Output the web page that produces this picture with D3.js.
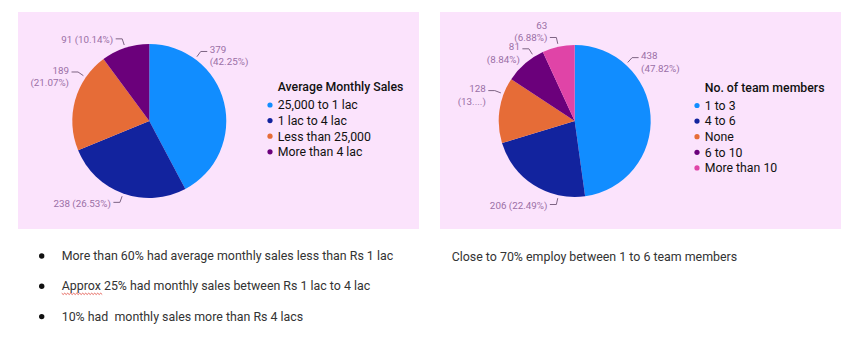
<!DOCTYPE html>
<html>
<head>
<meta charset="utf-8">
<script src="https://cdn.jsdelivr.net/npm/d3@7/dist/d3.min.js"></script>
<style>
  html, body { margin: 0; padding: 0; background: #ffffff; }
  svg { display: block; font-family: Roboto, "Noto Sans", sans-serif; }
  .note { white-space: pre; }
</style>
</head>
<body>
<svg id="chart" width="856" height="351"></svg>
<script>
// ---------- data ----------
const salesTitle = "Average Monthly Sales";
const salesCategories = ["25,000 to 1 lac", "1 lac to 4 lac", "Less than 25,000", "More than 4 lac"];
const salesValues = [379, 238, 189, 91];

const teamTitle = "No. of team members";
const teamCategories = ["1 to 3", "4 to 6", "None", "6 to 10", "More than 10"];
const teamValues = [438, 206, 128, 81, 63];
const teamPctOverride = [null, null, "(13....)", null, null];

const salesNotes = [
  "More than 60% had average monthly sales less than Rs 1 lac",
  "Approx 25% had monthly sales between Rs 1 lac to 4 lac",
  "10% had  monthly sales more than Rs 4 lacs"
];
const teamNotes = ["Close to 70% employ between 1 to 6 team members"];

// ---------- style / layout ----------
const palette = ["#118DFF", "#12239E", "#E66C37", "#6B007B", "#E044A7"];
const panelBg = "#fbe3fc";
const labelColor = "#9a6fa6";
const leaderColor = "#7d6483";

// where the label sits inside each slice (fraction of the slice sweep), and wrapping
const salesLabelAt = [0.24, 0.5, 0.75, 0.5];
const salesWrap = [true, false, true, false];
const teamLabelAt = [0.245, 0.25, 0.75, 0.76, 0.5];
const teamWrap = [true, false, true, true, true];

const svg = d3.select("#chart");
const fmtPct = d3.format(".2%");

function drawPanel(cfg) {
  const g = svg.append("g");
  g.append("rect")
    .attr("x", cfg.panel.x).attr("y", cfg.panel.y)
    .attr("width", cfg.panel.w).attr("height", cfg.panel.h)
    .attr("fill", panelBg);

  const color = d3.scaleOrdinal().domain(cfg.categories).range(palette);
  const total = d3.sum(cfg.values);
  const pie = d3.pie().sort(null).value(d => d.value);
  const arcs = pie(cfg.categories.map((c, i) => ({ cat: c, value: cfg.values[i], i })));
  const arc = d3.arc().innerRadius(0).outerRadius(cfg.r);

  const pg = g.append("g").attr("transform", `translate(${cfg.cx},${cfg.cy})`);
  pg.selectAll("path").data(arcs).join("path")
    .attr("d", arc)
    .attr("fill", d => color(d.data.cat));

  // labels
  const pt = (a, rr) => [rr * Math.sin(a), -rr * Math.cos(a)];
  const labels = arcs.map(d => {
    const i = d.data.i;
    const a = d.startAngle + (d.endAngle - d.startAngle) * cfg.labelAt[i];
    const right = Math.sin(a) >= 0;
    const p0 = pt(a, cfg.r + 3);
    const p1 = pt(a, cfg.r + 9.5);
    const p2 = [p1[0] + (right ? 6.5 : -6.5), p1[1]];
    const pct = (cfg.pctOverride && cfg.pctOverride[i]) || `(${fmtPct(d.data.value / total)})`;
    const wrap = cfg.wrap[i];
    const lines = wrap ? [String(d.data.value), pct] : [`${d.data.value} ${pct}`];
    const firstBase = wrap ? p1[1] + 1.5 : p1[1] + 4.5;
    return { i, a, right, p0, p1, p2, lines, firstBase, wrap };
  });

  // simple collision avoidance per side: push the upper label up
  ["left", "right"].forEach(side => {
    const s = labels.filter(l => (side === "right") === l.right).sort((u, v) => v.firstBase - u.firstBase);
    for (let k = 1; k < s.length; k++) {
      const lower = s[k - 1], upper = s[k];
      const upperBottom = upper.firstBase + (upper.lines.length - 1) * 12.5;
      const limit = lower.firstBase - 9;
      if (upperBottom > limit && Math.abs(lower.p2[0] - upper.p2[0]) < 45) {
        upper.firstBase -= (upperBottom - limit);
      }
    }
  });

  const lg = pg.append("g");
  labels.forEach(l => {
    lg.append("path")
      .attr("d", d3.line()([l.p0, l.p1, l.p2]))
      .attr("fill", "none")
      .attr("stroke", leaderColor)
      .attr("stroke-width", 1);
    const t = lg.append("text")
      .attr("x", l.p2[0] + (l.right ? 2.5 : -2.5))
      .attr("y", l.firstBase)
      .attr("text-anchor", l.right ? "start" : "end")
      .attr("font-size", 9.8)
      .attr("fill", labelColor);
    l.lines.forEach((line, k) => {
      t.append("tspan")
        .attr("x", l.p2[0] + (l.right ? 2.5 : -2.5))
        .attr("dy", k === 0 ? 0 : 12.5)
        .text(line);
    });
  });

  // legend
  const leg = g.append("g").attr("transform", `translate(${cfg.legend.x},${cfg.legend.y})`);
  leg.append("text")
    .attr("x", 0).attr("y", 0)
    .attr("font-size", 12.3).attr("font-weight", 500)
    .attr("fill", "#111")
    .text(cfg.title);
  const items = leg.selectAll("g.item").data(cfg.categories).join("g")
    .attr("class", "item")
    .attr("transform", (d, k) => `translate(0,${18 + k * 15.6})`);
  items.append("circle").attr("cx", -7.7).attr("cy", -4.3).attr("r", 2.6)
    .attr("fill", d => color(d));
  items.append("text").attr("x", 0).attr("y", 0)
    .attr("font-size", 12.3).attr("fill", "#111").text(d => d);

  // notes
  const ng = g.append("g");
  cfg.notes.forEach((n, k) => {
    const y = cfg.notesPos.y + k * 30.3;
    if (cfg.notesPos.bullet) {
      ng.append("circle").attr("cx", cfg.notesPos.bx).attr("cy", y - 4).attr("r", 2.7).attr("fill", "#111");
    }
    ng.append("text").attr("class", "note").attr("x", cfg.notesPos.x).attr("y", y)
      .attr("font-size", 12.4).attr("fill", "#333").text(n);
  });
  return ng;
}

drawPanel({
  panel: { x: 18, y: 12, w: 401, h: 217 },
  cx: 149.3, cy: 121, r: 77,
  categories: salesCategories, values: salesValues,
  labelAt: salesLabelAt, wrap: salesWrap,
  title: salesTitle,
  legend: { x: 277.7, y: 91.3 },
  notes: salesNotes,
  notesPos: { x: 61.7, y: 260, bullet: true, bx: 41.7 }
});

drawPanel({
  panel: { x: 440, y: 12, w: 401, h: 217 },
  cx: 574.7, cy: 121, r: 76,
  categories: teamCategories, values: teamValues,
  labelAt: teamLabelAt, wrap: teamWrap, pctOverride: teamPctOverride,
  title: teamTitle,
  legend: { x: 704.7, y: 91.8 },
  notes: teamNotes,
  notesPos: { x: 451.7, y: 260.5, bullet: false }
});

// spell-check squiggle under "Approx"
(function () {
  const x0 = 61.7, x1 = 103, y = 293.5;
  const pts = d3.range(x0, x1 + 0.01, 1.5).map((x, k) => [x, y + (k % 2 ? 1 : -0.3)]);
  svg.append("path").attr("d", d3.line()(pts)).attr("fill", "none")
    .attr("stroke", "#e0443a").attr("stroke-width", 0.8);
})();
</script>
</body>
</html>
